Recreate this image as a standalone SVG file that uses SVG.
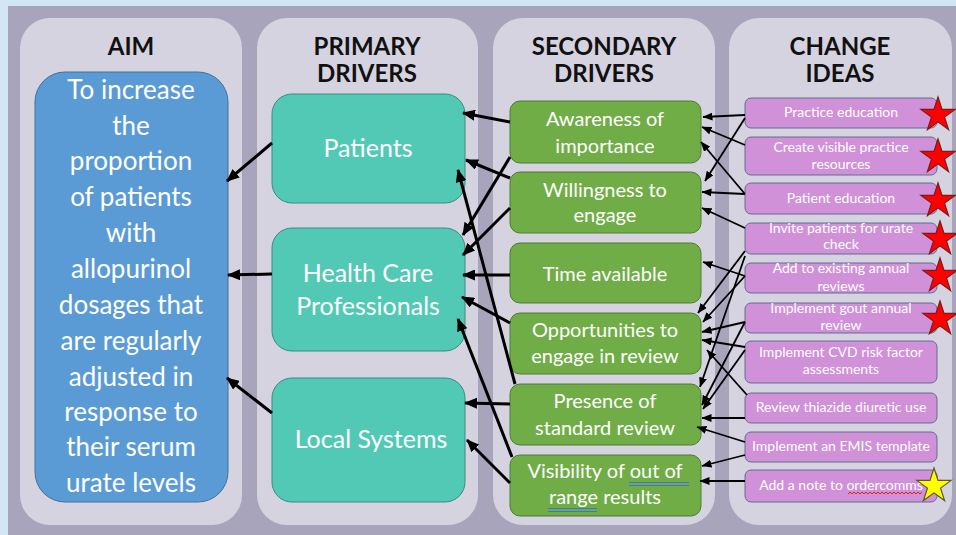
<svg xmlns="http://www.w3.org/2000/svg" width="956" height="535" viewBox="0 0 956 535">
  <style>
    .col { fill: #d5d3df; }
    .hdr { font-family: Lato, "Liberation Sans", sans-serif; font-weight: bold; font-size: 24px; fill: #111; text-anchor: middle; }
    .aim { fill: #5b9bd5; stroke: #41719c; stroke-width: 1; }
    .aimt { font-family: Lato, "Liberation Sans", sans-serif; font-size: 26px; fill: #fff; text-anchor: middle; }
    .pri { fill: #52c9b5; stroke: #3b8c82; stroke-width: 1; }
    .prit { font-family: Lato, "Liberation Sans", sans-serif; font-size: 25px; fill: #fff; text-anchor: middle; }
    .sec { fill: #70ad47; stroke: #4f7d34; stroke-width: 1; }
    .sect { font-family: Lato, "Liberation Sans", sans-serif; font-size: 20px; fill: #fff; text-anchor: middle; }
    .idea { fill: #d091d8; stroke: #5e6e91; stroke-width: 1; }
    .ideat { font-family: Lato, "Liberation Sans", sans-serif; font-size: 14px; fill: #fff; text-anchor: middle; }
    .thick { stroke: #000; stroke-width: 3; fill: none; marker-end: url(#bigArrow); }
    .thin { stroke: #000; stroke-width: 1.8; fill: none; marker-end: url(#smallArrow); }
    .redstar { fill: #ff0000; stroke: #7d1b1b; stroke-width: 1.2; }
    .yelstar { fill: #ffff00; stroke: #5a5a20; stroke-width: 1.2; }
  </style>
  <defs>
    <marker id="bigArrow" markerUnits="userSpaceOnUse" markerWidth="13" markerHeight="11" refX="12" refY="5.5" orient="auto">
      <path d="M0,0 L13,5.5 L0,11 z" fill="#000"/>
    </marker>
    <marker id="smallArrow" markerUnits="userSpaceOnUse" markerWidth="10" markerHeight="8" refX="9.5" refY="4" orient="auto">
      <path d="M0,0 L10,4 L0,8 z" fill="#000"/>
    </marker>
    <polygon id="star" points="0,-18 4.04,-5.57 17.12,-5.56 6.54,2.13 10.58,14.56 0,6.88 -10.58,14.56 -6.54,2.13 -17.12,-5.56 -4.04,-5.57"/>
  </defs>

  <!-- page background and slide panel -->
  <rect x="0" y="0" width="956" height="535" fill="#d2e6f3"/>
  <rect x="8" y="6" width="948" height="529" fill="#a8a4bb"/>

  <!-- column panels -->
  <rect class="col" x="20" y="18" width="222" height="507" rx="30"/>
  <rect class="col" x="257" y="18" width="221" height="507" rx="30"/>
  <rect class="col" x="493" y="18" width="222" height="507" rx="30"/>
  <rect class="col" x="729" y="18" width="223" height="507" rx="30"/>

  <!-- column headings -->
  <text class="hdr" x="131" y="55">AIM</text>
  <text class="hdr" x="367" y="55">PRIMARY</text>
  <text class="hdr" x="367" y="82">DRIVERS</text>
  <text class="hdr" x="604" y="55">SECONDARY</text>
  <text class="hdr" x="604" y="82">DRIVERS</text>
  <text class="hdr" x="840" y="55">CHANGE</text>
  <text class="hdr" x="840" y="82">IDEAS</text>

  <!-- aim -->
  <g id="aim">
    <rect class="aim" x="35" y="72" width="193" height="430" rx="30"/>
    <text class="aimt" x="131" y="99">To increase</text>
    <text class="aimt" x="131" y="135">the</text>
    <text class="aimt" x="131" y="170">proportion</text>
    <text class="aimt" x="131" y="206">of patients</text>
    <text class="aimt" x="131" y="242">with</text>
    <text class="aimt" x="131" y="278">allopurinol</text>
    <text class="aimt" x="131" y="314">dosages that</text>
    <text class="aimt" x="131" y="350">are regularly</text>
    <text class="aimt" x="131" y="386">adjusted in</text>
    <text class="aimt" x="131" y="421">response to</text>
    <text class="aimt" x="131" y="456">their serum</text>
    <text class="aimt" x="131" y="492">urate levels</text>
  </g>

  <!-- primary drivers -->
  <g id="p-patients">
    <rect class="pri" x="272" y="94" width="193" height="109" rx="20"/>
    <text class="prit" x="368" y="157">Patients</text>
  </g>
  <g id="p-hcp">
    <rect class="pri" x="272" y="228" width="193" height="123" rx="20"/>
    <text class="prit" x="368" y="282">Health Care</text>
    <text class="prit" x="368" y="315">Professionals</text>
  </g>
  <g id="p-local">
    <rect class="pri" x="272" y="378" width="193" height="124" rx="20"/>
    <text class="prit" x="371" y="448">Local Systems</text>
  </g>

  <!-- secondary drivers -->
  <g id="s-awareness">
    <rect class="sec" x="510" y="101" width="191" height="62" rx="10"/>
    <text class="sect" x="605" y="126">Awareness of</text>
    <text class="sect" x="605" y="153">importance</text>
  </g>
  <g id="s-willingness">
    <rect class="sec" x="510" y="172" width="191" height="61" rx="10"/>
    <text class="sect" x="605" y="197">Willingness to</text>
    <text class="sect" x="605" y="222">engage</text>
  </g>
  <g id="s-time">
    <rect class="sec" x="510" y="243" width="191" height="60" rx="10"/>
    <text class="sect" x="605" y="281">Time available</text>
  </g>
  <g id="s-opportunities">
    <rect class="sec" x="510" y="313" width="191" height="61" rx="10"/>
    <text class="sect" x="605" y="337">Opportunities to</text>
    <text class="sect" x="605" y="363">engage in review</text>
  </g>
  <g id="s-presence">
    <rect class="sec" x="510" y="384" width="191" height="61" rx="10"/>
    <text class="sect" x="605" y="408">Presence of</text>
    <text class="sect" x="605" y="435">standard review</text>
  </g>
  <g id="s-visibility">
    <rect class="sec" x="510" y="455" width="191" height="61" rx="10"/>
    <text class="sect" x="605" y="478">Visibility of out of</text>
    <text class="sect" x="605" y="504">range results</text>
    <!-- grammar-check double underline -->
    <path d="M629,482.5 H689 M629,485.5 H689 M548,508.5 H597 M548,511.5 H597" stroke="#3f74d0" stroke-width="1.2" fill="none"/>
  </g>

  <!-- change ideas -->
  <g id="c-practice-ed">
    <rect class="idea" x="745" y="98" width="192" height="30" rx="6"/>
    <text class="ideat" x="841" y="117">Practice education</text>
  </g>
  <g id="c-resources">
    <rect class="idea" x="745" y="137" width="192" height="38" rx="6"/>
    <text class="ideat" x="841" y="152">Create visible practice</text>
    <text class="ideat" x="841" y="169">resources</text>
  </g>
  <g id="c-patient-ed">
    <rect class="idea" x="745" y="183" width="192" height="31" rx="6"/>
    <text class="ideat" x="841" y="203">Patient education</text>
  </g>
  <g id="c-invite">
    <rect class="idea" x="745" y="223" width="192" height="31" rx="6"/>
    <text class="ideat" x="841" y="233">Invite patients for urate</text>
    <text class="ideat" x="841" y="249">check</text>
  </g>
  <g id="c-existing">
    <rect class="idea" x="745" y="263" width="192" height="30" rx="6"/>
    <text class="ideat" x="841" y="273">Add to existing annual</text>
    <text class="ideat" x="841" y="291">reviews</text>
  </g>
  <g id="c-gout">
    <rect class="idea" x="745" y="303" width="192" height="30" rx="6"/>
    <text class="ideat" x="841" y="313">Implement gout annual</text>
    <text class="ideat" x="841" y="330">review</text>
  </g>
  <g id="c-cvd">
    <rect class="idea" x="745" y="341" width="192" height="42" rx="6"/>
    <text class="ideat" x="841" y="357">Implement CVD risk factor</text>
    <text class="ideat" x="841" y="374">assessments</text>
  </g>
  <g id="c-thiazide">
    <rect class="idea" x="745" y="393" width="192" height="30" rx="6"/>
    <text class="ideat" x="841" y="412">Review thiazide diuretic use</text>
  </g>
  <g id="c-emis">
    <rect class="idea" x="745" y="432" width="192" height="30" rx="6"/>
    <text class="ideat" x="841" y="451">Implement an EMIS template</text>
  </g>
  <g id="c-ordercomms">
    <rect class="idea" x="745" y="470" width="192" height="32" rx="6"/>
    <text class="ideat" x="841" y="490">Add a note to ordercomms</text>
    <!-- spell-check squiggle -->
    <path d="M848,494 l2,-2 l2,2 l2,-2 l2,2 l2,-2 l2,2 l2,-2 l2,2 l2,-2 l2,2 l2,-2 l2,2 l2,-2 l2,2 l2,-2 l2,2 l2,-2 l2,2 l2,-2 l2,2 l2,-2 l2,2 l2,-2 l2,2 l2,-2 l2,2 l2,-2 l2,2 l2,-2 l2,2 l2,-2 l2,2 l2,-2 l2,2 l2,-2 l2,2 l2,-2" stroke="#e02020" stroke-width="1" fill="none"/>
  </g>

  <!-- priority stars -->
  <g id="stars">
    <use href="#star" class="redstar" transform="translate(938,115)"/>
    <use href="#star" class="redstar" transform="translate(938,157)"/>
    <use href="#star" class="redstar" transform="translate(938,201)"/>
    <use href="#star" class="redstar" transform="translate(940,239)"/>
    <use href="#star" class="redstar" transform="translate(940,276)"/>
    <use href="#star" class="redstar" transform="translate(940,319)"/>
    <use href="#star" class="yelstar" transform="translate(934,486)"/>
  </g>

  <!-- connectors -->
  <g id="connectors">
    <!-- primary drivers to aim -->
    <line class="thick" x1="272" y1="143" x2="227" y2="181"/>
    <line class="thick" x1="272" y1="274" x2="228" y2="275"/>
    <line class="thick" x1="272" y1="413" x2="227" y2="378"/>
    <!-- secondary drivers to primary drivers -->
    <line class="thick" x1="510" y1="122" x2="463" y2="113"/>
    <line class="thick" x1="510" y1="178" x2="466" y2="160"/>
    <line class="thick" x1="510" y1="157" x2="463" y2="235"/>
    <line class="thick" x1="510" y1="208" x2="463" y2="255"/>
    <line class="thick" x1="510" y1="275" x2="463" y2="275"/>
    <line class="thick" x1="510" y1="323" x2="462" y2="297"/>
    <line class="thick" x1="515" y1="384" x2="458" y2="170"/>
    <line class="thick" x1="512" y1="457" x2="458" y2="319"/>
    <line class="thick" x1="510" y1="404" x2="465" y2="403"/>
    <line class="thick" x1="510" y1="483" x2="467" y2="440"/>
    <!-- change ideas to secondary drivers -->
    <line class="thin" x1="745" y1="115" x2="703" y2="117"/>
    <line class="thin" x1="745" y1="118" x2="705" y2="181"/>
    <line class="thin" x1="745" y1="145" x2="702" y2="127"/>
    <line class="thin" x1="745" y1="194" x2="701" y2="142"/>
    <line class="thin" x1="745" y1="194" x2="702" y2="192"/>
    <line class="thin" x1="745" y1="228" x2="702" y2="208"/>
    <line class="thin" x1="745" y1="276" x2="703" y2="262"/>
    <line class="thin" x1="745" y1="251" x2="698" y2="313"/>
    <line class="thin" x1="745" y1="256" x2="700" y2="387"/>
    <line class="thin" x1="745" y1="276" x2="703" y2="322"/>
    <line class="thin" x1="745" y1="322" x2="702" y2="332"/>
    <line class="thin" x1="745" y1="322" x2="702" y2="405"/>
    <line class="thin" x1="745" y1="347" x2="702" y2="340"/>
    <line class="thin" x1="745" y1="350" x2="703" y2="409"/>
    <line class="thin" x1="747" y1="395" x2="707" y2="350"/>
    <line class="thin" x1="745" y1="418" x2="702" y2="418"/>
    <line class="thin" x1="745" y1="442" x2="697" y2="427"/>
    <line class="thin" x1="745" y1="455" x2="702" y2="466"/>
    <line class="thin" x1="745" y1="481" x2="700" y2="481"/>
  </g>
</svg>
